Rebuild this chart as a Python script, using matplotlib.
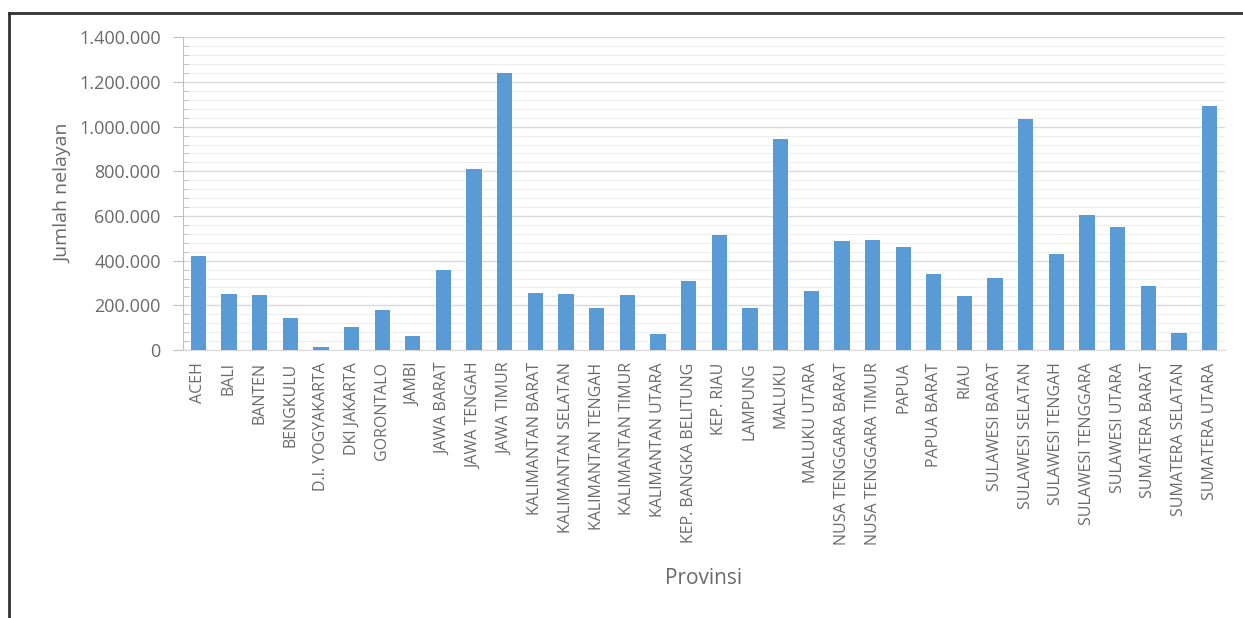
import matplotlib.pyplot as plt
from matplotlib.ticker import FuncFormatter, MultipleLocator
from matplotlib.lines import Line2D

# Data: jumlah nelayan per provinsi
provinsi = [
    'ACEH', 'BALI', 'BANTEN', 'BENGKULU', 'D.I. YOGYAKARTA', 'DKI JAKARTA',
    'GORONTALO', 'JAMBI', 'JAWA BARAT', 'JAWA TENGAH', 'JAWA TIMUR',
    'KALIMANTAN BARAT', 'KALIMANTAN SELATAN', 'KALIMANTAN TENGAH',
    'KALIMANTAN TIMUR', 'KALIMANTAN UTARA', 'KEP. BANGKA BELITUNG',
    'KEP. RIAU', 'LAMPUNG', 'MALUKU', 'MALUKU UTARA', 'NUSA TENGGARA BARAT',
    'NUSA TENGGARA TIMUR', 'PAPUA', 'PAPUA BARAT', 'RIAU', 'SULAWESI BARAT',
    'SULAWESI SELATAN', 'SULAWESI TENGAH', 'SULAWESI TENGGARA',
    'SULAWESI UTARA', 'SUMATERA BARAT', 'SUMATERA SELATAN', 'SUMATERA UTARA',
]
nelayan = [
    422000, 251000, 245000, 142000, 12000, 103000,
    179000, 64000, 360000, 809000, 1239000,
    257000, 251000, 187000,
    245000, 70000, 309000,
    513000, 187000, 943000, 264000, 488000,
    494000, 461000, 339000, 243000, 321000,
    1034000, 428000, 603000,
    551000, 288000, 78000, 1091000,
]

plt.rcParams['font.family'] = ['Open Sans', 'DejaVu Sans']
teks = '#6a6a6a'

fig = plt.figure(figsize=(12.43, 6.18), dpi=100)
ax = fig.add_axes([0.1472, 0.4337, 0.8383, 0.5059])

x = range(len(provinsi))
ax.bar(x, nelayan, width=0.5, color='#5b9bd5', zorder=3)

ax.set_xlim(-0.5, len(provinsi) - 0.5)
ax.set_ylim(0, 1400000)
ax.yaxis.set_major_locator(MultipleLocator(200000))
ax.yaxis.set_minor_locator(MultipleLocator(40000))
ax.yaxis.set_major_formatter(FuncFormatter(lambda v, p: f'{int(v):,}'.replace(',', '.')))

ax.grid(axis='y', which='major', color='#d9d9d9', linewidth=1.0, zorder=0)
ax.grid(axis='y', which='minor', color='#eeeeee', linewidth=0.8, zorder=0)

ax.set_xticks(list(x))
ax.set_xticklabels(provinsi, rotation=90, fontsize=11.5, color=teks)
ax.tick_params(axis='x', length=0, pad=9)
ax.tick_params(axis='y', which='major', direction='out', length=7, color='#bfbfbf',
               labelsize=13, labelcolor=teks, pad=9)
ax.tick_params(axis='y', which='minor', direction='in', length=4, color='#bfbfbf')

for s in ['top', 'right']:
    ax.spines[s].set_visible(False)
ax.spines['left'].set_color('#bfbfbf')
ax.spines['bottom'].set_color('#d9d9d9')

ax.set_ylabel('Jumlah nelayan', fontsize=14, color=teks, labelpad=5)
fig.text(0.566, 0.064, 'Provinsi', fontsize=15, color=teks, ha='center', va='center')

# bingkai luar (kiri dan atas)
fig.add_artist(Line2D([9 / 1243, 9 / 1243], [0, 1 - 13 / 618], color='#333333', linewidth=2))
fig.add_artist(Line2D([9 / 1243, 1], [1 - 13 / 618, 1 - 13 / 618], color='#333333', linewidth=2))

fig.savefig('out.png', dpi=100)
